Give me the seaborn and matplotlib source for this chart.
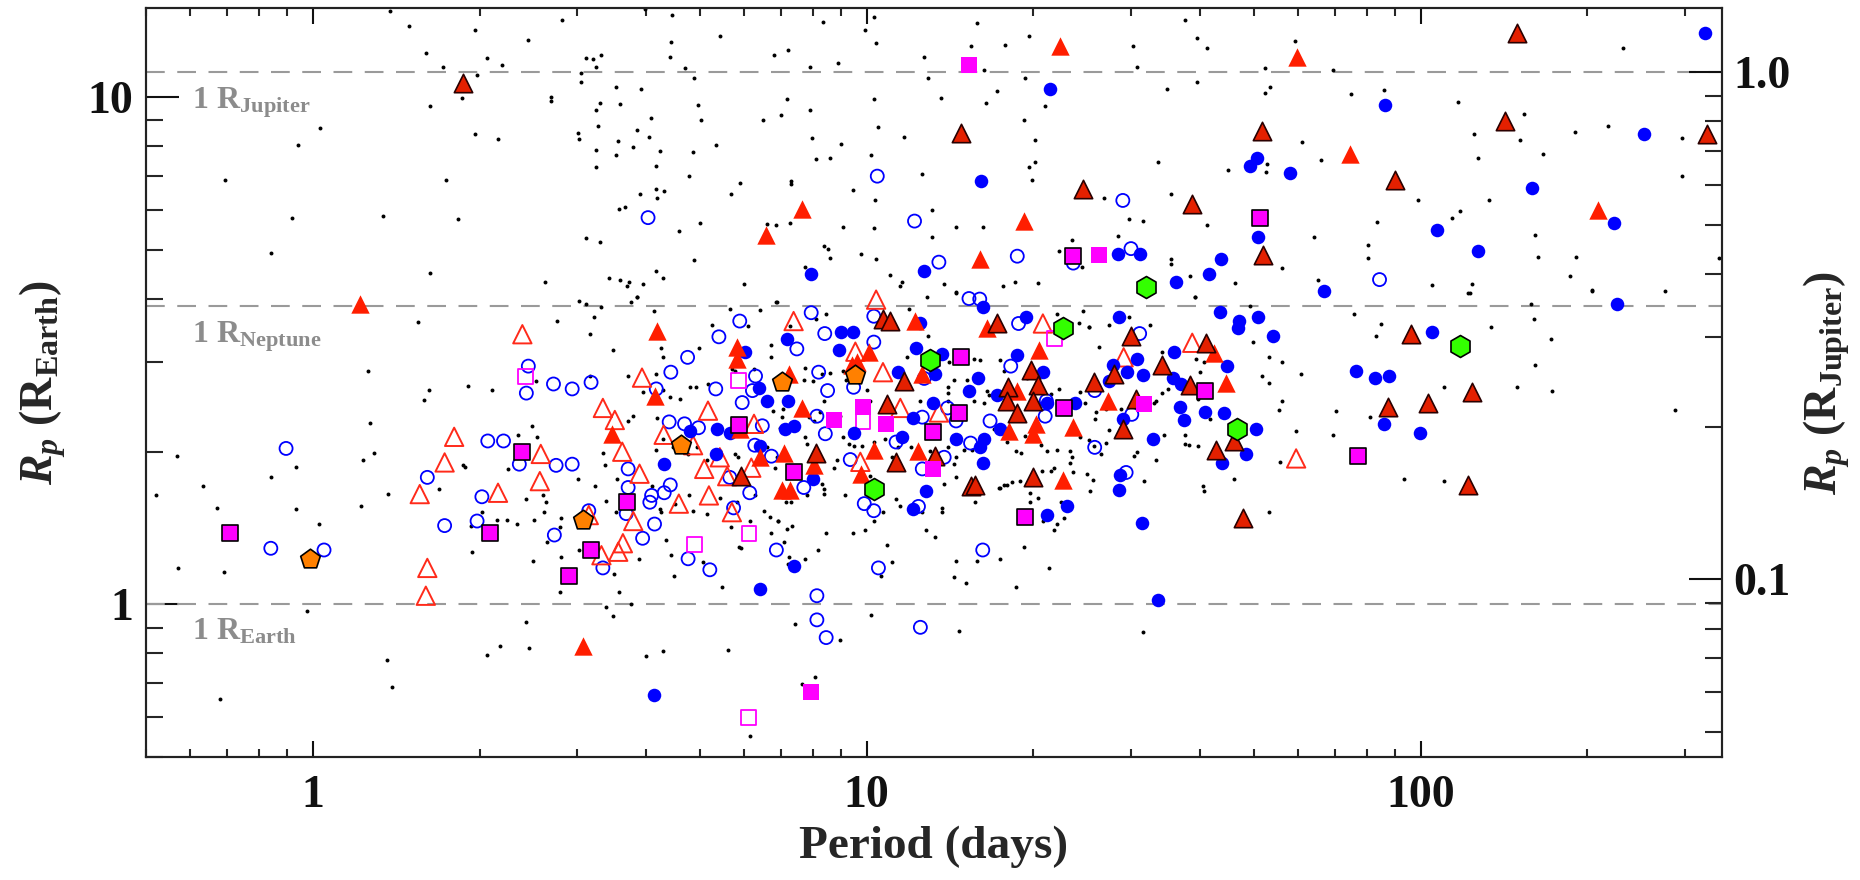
import numpy as np
import matplotlib
matplotlib.use("Agg")
import matplotlib.pyplot as plt
import seaborn as sns
from matplotlib.ticker import FixedLocator, FixedFormatter, LogLocator, NullFormatter

# ---------------- data: (period [days], radius [R_Earth]) ----------------
blue_filled = [
    (7.95,4.48),(12.67,4.54),(21.4,10.4),(86.2,9.65),(326,13.4),(253,8.46),(50.6,7.58),(49.2,7.32),
    (58.0,7.09),(16.1,6.84),(159,6.61),(223,5.65),(107,5.47),(50.9,5.30),(127,4.98),(28.4,4.91),
    (31.1,4.91),(43.6,4.80),(41.5,4.48),(36.2,4.32),(66.8,4.14),
    (6.02,3.15),(6.39,2.67),(6.62,2.52),(4.79,2.20),(5.36,2.22),(5.67,2.18),(6.41,2.05),(5.34,1.98),
    (4.30,1.89),(6.41,1.07),(4.13,0.663),
    (16.2,3.85),(12.5,3.59),(19.4,3.69),(7.18,3.33),(9.00,3.45),(9.45,3.45),(8.92,3.17),(12.3,3.21),
    (13.7,3.12),(11.4,2.87),(13.3,2.85),(15.9,2.80),(15.3,2.64),(18.7,3.10),(20.8,2.87),(17.2,2.59),
    (21.2,2.49),(23.8,2.49),(17.4,2.22),(16.3,2.12),(16.0,2.04),(16.2,1.90),(14.5,2.12),(13.2,2.50),
    (12.1,2.33),(11.6,2.14),(9.50,2.18),(7.21,2.52),(7.13,2.22),(7.40,2.25),(8.00,1.77),(7.40,1.19),
    (12.8,1.67),(12.1,1.54),(21.2,1.50),(23.0,1.56),
    (28.5,3.69),(43.5,3.78),(47.1,3.62),(46.8,3.50),(50.8,3.68),(54.2,3.39),(30.8,3.05),(35.9,3.14),
    (27.8,2.96),(44.7,2.95),(29.5,2.87),(31.6,2.83),(27.4,2.76),(35.7,2.79),(36.9,2.72),(76.4,2.89),
    (82.8,2.80),(87.8,2.82),(36.8,2.45),(37.4,2.31),(40.8,2.39),(44.1,2.38),(29.0,2.32),(50.5,2.22),
    (48.4,1.98),(43.8,1.90),(32.9,2.12),(28.7,1.80),(28.5,1.68),(31.4,1.45),(86.0,2.27),(33.5,1.02),
    (226,3.92),(105,3.45),(99.7,2.18),
]
blue_open = [
    (4.03,5.79),(10.45,6.99),(12.2,5.70),(29.0,6.26),(13.5,4.73),(18.7,4.86),(23.6,4.71),(30.0,5.03),
    (84.3,4.37),
    (0.895,2.03),(0.840,1.29),(1.048,1.28),(1.61,1.78),(1.73,1.43),
    (5.90,3.62),(5.41,3.37),(4.75,3.07),(2.45,2.95),(2.43,2.61),(2.72,2.72),(2.94,2.66),(3.18,2.74),
    (4.43,2.87),(4.17,2.66),(5.34,2.66),(6.30,2.82),(6.22,2.64),(5.96,2.50),(4.40,2.29),(4.69,2.27),
    (4.97,2.23),(6.48,2.25),(6.28,2.06),(6.73,1.96),(5.66,1.78),(6.15,1.66),(5.75,1.55),(4.42,1.72),
    (4.31,1.66),(4.09,1.64),(4.06,1.59),(3.71,1.85),(3.71,1.70),(3.68,1.51),(4.14,1.44),(3.94,1.35),
    (4.76,1.23),(5.21,1.17),(6.87,1.28),(3.15,1.53),(2.73,1.37),(3.34,1.18),(1.98,1.46),(2.02,1.63),
    (2.75,1.88),(2.94,1.89),(2.36,1.89),(2.07,2.10),(2.21,2.10),
    (15.3,4.01),(16.0,4.00),(7.94,3.76),(10.3,3.70),(18.8,3.58),(7.48,3.19),(8.40,3.42),(10.3,3.29),
    (9.47,2.68),(8.19,2.87),(8.50,2.64),(12.7,2.79),(18.2,2.95),(21.1,2.52),(21.0,2.35),(16.7,2.30),
    (15.4,2.08),(14.0,2.44),(14.5,2.30),(12.6,2.34),(11.3,2.09),(13.8,1.95),(12.6,1.85),(9.34,1.93),
    (9.90,1.58),(10.3,1.53),(8.13,2.35),(8.42,2.17),(7.70,1.70),(10.5,1.18),(16.2,1.28),(12.4,1.56),
    (8.13,1.04),(8.13,0.932),(8.45,0.860),(12.5,0.901),
    (31.1,3.42),(25.8,2.64),(30.1,2.37),(25.8,2.04),(29.4,1.82),
]
red_filled = [
    (7.63,6.01),(6.59,5.36),(22.3,12.6),(59.9,12.0),(74.5,7.72),(19.2,5.70),(209,5.99),(16.0,4.80),
    (1.216,3.92),
    (4.18,3.46),(5.84,3.22),(5.84,3.05),(4.14,2.58),(3.47,2.17),(5.90,2.22),(6.41,1.95),(3.08,0.829),
    (12.2,3.62),(16.5,3.50),(10.1,3.15),(9.61,3.01),(9.41,2.96),(7.23,2.85),(12.6,2.85),(20.5,3.17),
    (18.7,2.64),(20.2,2.27),(18.1,2.20),(20.0,2.17),(23.6,2.24),(12.4,2.01),(10.3,2.02),(9.77,1.81),
    (7.64,2.44),(7.10,1.99),(8.04,1.88),(7.03,1.68),(7.28,1.68),(22.6,1.76),
    (42.4,3.13),(44.5,2.73),(27.3,2.52),
]
red_edged = [
    (1.87,10.66),(149,13.4),(14.8,8.52),(51.7,8.58),(142,8.98),(329,8.46),(24.6,6.58),(89.9,6.87),
    (38.7,6.17),(51.9,4.89),
    (5.92,1.79),
    (10.7,3.66),(11.0,3.62),(17.2,3.59),(11.7,2.76),(19.8,2.90),(20.4,2.71),(18.0,2.68),(17.9,2.52),
    (20.0,2.52),(18.7,2.38),(13.3,1.96),(11.3,1.91),(10.9,2.48),(8.11,1.99),(15.4,1.71),(15.7,1.72),
    (20.0,1.78),
    (30.0,3.39),(41.0,3.28),(34.1,2.96),(28.0,2.85),(25.7,2.74),(38.4,2.71),(30.6,2.54),(29.0,2.22),
    (42.7,2.02),(46.1,2.10),(47.7,1.48),(87.2,2.45),
    (96.0,3.42),(124,2.62),(103,2.50),(122,1.72),
]
red_open = [
    (1.80,2.14),(1.73,1.905),(1.56,1.65),(1.61,1.18),(1.60,1.04),
    (2.39,3.41),(3.93,2.80),(3.34,2.44),(3.51,2.31),(5.17,2.41),(6.26,2.27),(4.30,2.16),(4.86,2.06),
    (5.43,1.95),(5.09,1.85),(5.60,1.79),(6.19,1.86),(5.71,1.52),(5.19,1.64),(4.58,1.58),(3.89,1.81),
    (3.62,2.00),(3.79,1.46),(3.15,1.50),(3.32,1.25),(3.56,1.27),(3.63,1.32),(2.16,1.66),(2.57,1.75),
    (2.58,1.98),
    (10.4,3.99),(7.38,3.62),(20.8,3.58),(9.54,3.15),(10.7,2.87),(13.5,2.39),(9.74,1.91),(11.5,2.44),
    (38.7,3.28),(29.1,3.07),(59.6,1.94),
]
magenta_edged = [
    (51.3,5.78),(23.6,4.86),(0.710,1.385),(5.88,2.26),(3.70,1.59),(3.18,1.28),(2.90,1.14),(2.09,1.385),
    (2.39,2.00),(14.8,3.08),(22.7,2.44),(14.7,2.38),(13.2,2.19),(7.40,1.82),(19.3,1.49),(40.8,2.64),
    (77.0,1.96),
]
magenta_filled = [
    (15.3,11.6),(26.3,4.89),(9.85,2.45),(10.85,2.27),(8.74,2.31),(13.2,1.85),(7.94,0.673),(31.7,2.48),
]
magenta_open = [
    (2.42,2.81),(5.88,2.76),(4.88,1.31),(6.13,1.38),(6.11,0.598),(21.8,3.34),(9.85,2.29),
]
orange_pentagons = [(0.989,1.23),(3.08,1.466),(4.63,2.06),(7.03,2.74),(9.51,2.83)]
green_hexagons = [(31.9,4.22),(22.6,3.50),(13.0,3.03),(10.3,1.69),(46.6,2.22),(118,3.23)]

candidates = [
    # upper part
    (1.38,14.8),(1.49,13.8),(1.96,13.6),(2.45,13.0),(2.82,14.2),(1.60,12.2),(1.72,11.5),(2.06,11.97),
    (2.20,11.6),(1.98,11.07),(3.12,11.97),(3.21,11.9),(3.31,12.1),(3.05,11.15),(3.24,11.5),(3.05,10.7),
    (3.98,14.9),(4.45,14.5),(4.43,12.85),(5.43,13.2),(4.41,12.0),(4.70,11.4),(4.88,10.9),(6.79,12.1),
    (7.21,12.4),(7.91,11.5),(8.89,11.7),(9.95,13.6),(10.3,14.4),(10.4,12.8),(12.7,12.0),(12.9,10.9),
    (8.35,14.1),(1.86,9.97),(1.63,9.6),(1.03,8.71),(0.94,8.04),(0.694,6.87),(1.74,6.87),(1.96,8.45),
    (2.16,8.26),(2.69,10.0),(2.69,9.85),(3.52,10.5),(3.91,10.4),(3.30,9.75),(3.58,9.7),(3.24,9.45),
    (4.08,9.12),(3.27,8.76),(3.85,8.61),(4.04,8.35),(3.01,8.52),(3.03,8.26),(3.55,8.19),(3.79,7.98),
    (3.25,7.86),(4.23,7.84),(3.52,7.69),(3.25,7.29),(4.16,7.32),(4.96,9.67),(5.02,9.03),(4.85,7.81),
    (5.34,8.05),(4.77,6.98),(5.90,6.79),(5.70,6.45),(7.18,9.92),(7.01,9.22),(6.50,9.01),(7.89,9.42),
    (7.98,8.31),(8.11,7.55),(8.60,7.58),(8.98,8.10),(7.30,6.84),(7.30,6.75),(9.43,6.57),(10.3,9.92),
    (10.5,8.74),(11.7,8.35),(10.2,7.71),(12.6,7.06),(10.35,6.27),(0.918,5.77),(1.34,5.83),(1.83,5.76),
    (0.841,4.94),(1.63,4.50),(2.63,4.32),(3.11,5.29),(3.30,5.19),(3.57,6.01),(3.66,6.07),(3.90,6.46),
    (4.17,6.60),(4.31,6.53),(4.19,6.32),(4.58,5.46),(5.01,5.64),(6.60,5.63),(6.86,5.61),(7.26,5.65),
    (9.08,5.54),(10.3,5.52),(4.88,4.78),(4.17,4.54),(4.29,4.41),(3.42,4.41),(3.58,4.37),(3.73,4.32),
    (3.70,4.25),(3.95,4.28),(6.00,4.29),(7.74,4.62),(8.37,5.08),(8.51,5.03),(8.58,4.82),(9.76,4.91),
    (10.4,4.79),(11.0,4.47),(11.6,4.33),(11.5,4.25),(13.1,6.00),(13.1,5.31),(3.85,4.04),
    (15.8,14.0),(15.4,12.6),(16.3,11.3),(17.8,12.7),(19.6,13.2),(13.6,9.97),(17.2,10.3),(16.4,9.74),
    (19.3,10.9),(21.0,9.6),(19.2,9.03),(20.1,8.23),(19.6,7.3),(20.1,7.46),(19.9,6.88),(14.5,5.55),
    (16.2,5.56),(13.8,4.28),(14.5,4.13),(17.6,4.25),(18.5,4.32),(20.4,4.30),(22.2,4.97),(23.5,5.23),
    (24.5,4.63),(26.8,6.34),(28.4,5.32),(29.8,5.76),(31.5,5.70),(30.3,12.6),(30.8,11.5),(34.8,10.4),
    (33.5,7.46),(35.5,6.46),(35.5,4.80),(35.5,4.69),(37.5,14.2),(39.5,13.1),(41.2,12.5),(39.5,10.7),
    (41.2,5.61),(38.4,4.45),(46.3,4.31),(39.1,4.03),(44.9,7.18),(52.3,11.4),(52.3,10.2),(53.4,10.5),
    (52.9,7.38),(52.5,7.13),(56.1,4.61),(59.2,12.9),(61.0,8.18),(66.1,7.52),(64.2,5.31),(65.3,4.36),
    (69.4,11.3),(74.8,10.15),(86.0,10.35),(83.4,5.67),(80.5,5.11),(80.5,4.82),(98.9,6.26),(105,4.27),
    (114,5.77),(118,5.96),(117,9.81),(125,8.46),(127,7.58),(133,6.27),(124,4.28),(123,4.12),
    (151,8.23),(154,9.29),(166,7.72),(161,5.36),(163,4.85),(190,8.55),(191,4.85),(186,4.45),
    (204,4.16),(218,8.76),(232,12.5),(276,4.14),(297,8.31),(297,6.98),(345,4.83),
    # left part
    (1.55,3.60),(1.26,2.89),(1.62,2.65),(1.59,2.53),(1.27,2.28),(1.29,1.99),(1.23,1.93),(1.37,1.65),
    (1.22,1.56),(1.69,1.69),(1.88,1.87),(0.568,1.96),(0.521,1.64),(0.634,1.71),(0.671,1.55),(0.842,1.78),
    (0.931,1.87),(0.931,1.54),(1.025,1.44),(0.570,1.18),(0.691,1.16),(0.977,0.969),(1.36,0.778),
    (1.39,0.687),(0.679,0.65),
    # 2-7 days
    (3.03,3.97),(3.11,3.91),(3.32,3.85),(3.76,3.95),(3.85,4.03),(4.13,3.79),(2.76,3.62),(3.22,3.68),
    (3.16,3.42),(3.48,3.18),(4.25,3.21),(4.28,3.07),(4.79,2.68),(4.91,2.68),(5.16,2.72),(5.26,3.55),
    (4.99,3.21),(5.66,3.82),(6.11,3.54),(6.41,3.80),(6.73,3.24),(6.73,3.08),(6.87,3.95),(1.91,2.69),
    (2.11,2.65),(2.53,2.76),(3.17,2.82),(3.71,2.82),(4.16,2.85),(4.29,2.65),(4.41,2.56),(4.60,2.54),
    (3.94,2.62),(5.72,2.91),(5.78,2.88),(6.25,2.91),(6.78,2.41),(3.78,2.35),(3.71,2.30),(2.49,2.25),
    (2.54,2.14),(2.35,2.16),(4.18,2.33),(4.29,2.12),(4.17,2.02),(4.47,2.04),(4.93,2.04),(4.76,1.98),
    (5.14,1.93),(5.44,2.01),(5.79,1.98),(5.86,1.95),(6.61,2.04),(1.87,1.88),(2.25,1.85),(3.34,1.99),
    (3.37,1.88),(3.01,1.77),(3.54,1.77),(3.23,1.71),(2.43,1.61),(2.60,1.64),(2.64,1.59),(2.51,1.47),
    (2.62,1.52),(2.81,1.48),(3.39,1.60),(3.52,1.52),(4.10,1.71),(4.23,1.54),(4.25,1.52),(4.50,1.58),
    (4.78,1.64),(4.86,1.53),(5.15,1.51),(5.43,1.62),(5.70,1.42),(5.84,1.59),(6.15,1.46),(6.28,1.64),
    (6.52,1.53),(6.68,1.49),(6.92,1.46),(6.73,1.38),(1.93,1.43),(2.02,1.52),(2.15,1.47),(2.24,1.47),
    (2.34,1.44),(2.65,1.33),(2.79,1.42),(1.94,1.27),(2.50,1.22),(2.81,1.24),(3.03,1.28),(3.50,1.15),
    (3.57,1.06),(3.88,1.23),(4.35,1.34),(4.44,1.25),(4.49,1.14),(5.06,1.21),(5.47,1.08),(5.88,1.30),
    (5.94,1.29),(2.79,1.06),(3.39,0.986),(3.49,0.947),(3.75,1.0),(2.43,0.925),(2.06,0.795),(2.18,0.826),
    (2.46,0.819),(3.99,0.791),(4.29,0.810),(5.62,0.813),(6.15,0.550),
    # 7-25 days
    (6.89,3.95),(7.26,3.54),(8.45,3.74),(8.11,3.65),(12.85,4.03),(14.5,4.12),(12.9,3.39),(11.9,3.82),
    (24.6,3.79),(25.2,3.52),(24.2,3.59),(22.1,3.74),(7.73,2.92),(7.70,2.77),(8.0,2.76),(8.31,2.85),
    (8.60,2.86),(8.36,2.52),(9.06,2.89),(9.19,2.77),(10.0,2.65),(10.15,2.52),(11.8,3.07),(14.1,3.01),
    (14.4,2.77),(14.0,2.68),(14.0,2.61),(15.2,2.77),(15.6,3.05),(16.0,3.03),(16.5,2.64),(16.6,2.59),
    (17.4,3.03),(17.7,2.89),(19.5,2.79),(21.5,2.60),(22.2,2.66),(24.3,2.62),(24.8,2.50),(12.5,2.52),
    (14.0,2.52),(15.6,2.52),(16.3,2.49),(7.03,2.34),(7.06,2.43),(6.98,2.23),(7.86,2.34),(8.02,2.30),
    (8.25,2.39),(8.96,2.35),(9.06,2.14),(9.28,2.07),(9.47,2.05),(9.81,2.05),(10.3,2.09),(10.8,2.12),
    (11.1,1.95),(11.4,2.04),(12.0,2.04),(13.0,2.01),(14.0,2.04),(14.5,1.95),(14.4,1.89),(15.0,2.02),
    (15.5,2.02),(17.0,2.22),(17.9,2.09),(18.6,2.01),(19.0,1.99),(19.3,2.15),(20.6,2.06),(21.2,2.01),
    (22.1,2.02),(23.3,2.01),(24.3,2.14),(25.2,2.11),(23.5,1.95),(23.3,1.90),(21.8,1.86),(20.7,1.83),
    (18.9,1.75),(18.3,1.74),(17.9,1.72),(17.4,1.70),(19.7,1.66),(20.4,1.62),(19.7,1.59),(21.5,1.83),
    (23.6,1.82),(25.0,1.81),(25.3,1.67),(22.4,1.59),(21.8,1.40),(22.1,1.44),(20.8,1.46),(22.7,1.48),
    (6.84,1.86),(6.89,1.95),(7.75,2.14),(7.80,2.07),(8.72,1.86),(8.84,1.93),(8.31,1.73),(8.36,1.69),
    (8.36,1.65),(7.15,1.59),(7.30,1.59),(7.80,1.64),(9.15,1.64),(10.15,1.79),(10.7,1.52),(11.3,1.61),
    (11.5,1.56),(12.6,1.52),(13.7,1.55),(13.7,1.52),(14.5,1.78),(13.8,1.73),(15.7,1.59),(17.3,1.70),
    (17.7,1.72),(6.91,1.46),(7.18,1.41),(7.33,1.43),(7.08,1.33),(7.75,1.23),(7.23,1.24),(7.20,1.20),
    (8.17,1.28),(8.46,1.38),(9.45,1.38),(9.95,1.40),(10.3,1.46),(10.9,1.31),(11.1,1.21),(10.6,1.14),
    (12.8,1.40),(13.3,1.36),(14.5,1.22),(14.4,1.13),(15.1,1.10),(15.8,1.22),(17.4,1.23),(19.2,1.30),
    (18.6,1.08),(21.3,1.18),(10.2,0.951),(7.41,0.914),(8.96,0.851),(14.7,0.887),(7.64,0.695),
    (8.08,0.719),
    # 25-100 days
    (25.2,3.52),(26.3,3.22),(27.4,3.55),(29.8,3.69),(32.5,3.56),(39.1,4.03),(49.1,3.87),(49.9,3.29),
    (53.3,3.07),(56.2,3.01),(51.7,2.82),(53.3,2.73),(60.7,2.85),(39.3,3.05),(40.6,3.01),(40.0,2.87),
    (34.1,3.15),(35.0,2.66),(34.1,2.61),(39.6,2.54),(75.9,3.74),(84.8,3.57),(83.1,3.39),(56.1,2.52),
    (55.4,2.42),(70.4,2.41),(59.6,2.20),(69.4,2.16),(81.1,2.34),(93.4,1.77),(25.9,2.39),(25.8,2.32),
    (27.0,2.43),(28.8,2.43),(33.3,2.52),(33.0,2.49),(34.4,2.16),(37.6,2.16),(37.6,2.07),(38.2,2.06),
    (39.6,2.05),(41.7,2.32),(27.4,2.21),(27.0,2.08),(25.7,2.05),(26.5,1.98),(30.8,2.00),(30.4,1.96),
    (33.3,1.93),(31.7,1.75),(25.6,1.76),(46.1,1.77),(40.4,1.71),(40.6,1.67),(55.8,1.91),(53.3,1.52),
    (31.5,0.882),
    # > 100 days
    (122,4.12),(204,4.15),(158,3.91),(160,3.65),(134,3.53),(172,3.34),(161,2.97),(110,2.68),
    (149,2.68),(173,2.64),(288,2.42),(110,1.75),
]

x_ticks = [1, 10, 100]
x_tick_labels = ["1", "10", "100"]
y_ticks = [1, 10]
y_tick_labels = ["1", "10"]
rj_ticks = [0.1, 1.0]
rj_tick_labels = ["0.1", "1.0"]
reference_lines = [(11.2, "1 R$_{\\rm Jupiter}$", 9.51),
                   (3.88, "1 R$_{\\rm Neptune}$", 3.29),
                   (1.0, "1 R$_{\\rm Earth}$", 0.852)]
earth_per_jupiter = 11.2

# ---------------- style ----------------
sns.set_style("ticks")
plt.rcParams["font.family"] = ["Liberation Serif", "DejaVu Serif"]
plt.rcParams["font.weight"] = "bold"
plt.rcParams["mathtext.fontset"] = "custom"
plt.rcParams["mathtext.rm"] = "Liberation Serif:bold"
plt.rcParams["mathtext.it"] = "Liberation Serif:italic:bold"
plt.rcParams["mathtext.bf"] = "Liberation Serif:bold"

fig = plt.figure(figsize=(18.6, 8.8), dpi=100)
ax = fig.add_axes([146/1860, 123/880, 1576/1860, 749/880])
ax.set_xscale("log")
ax.set_yscale("log")
ax.set_xlim(0.5, 350)
ax.set_ylim(0.5, 15)

for yv, lab, ty in reference_lines:
    ax.axhline(yv, color="#9a9a9a", lw=1.5, dashes=(9, 6), zorder=1)
    ax.text(0.605, ty, lab, color="#8c8c8c", fontsize=23, fontweight="bold",
            va="baseline", ha="left", zorder=1)


def plot_series(pairs, **kw):
    p, r = zip(*pairs)
    sns.scatterplot(x=list(p), y=list(r), ax=ax, legend=False, **kw)


plot_series(candidates, marker="o", s=8, color="black", linewidth=0, zorder=2)
plot_series(blue_open, marker="o", s=88, color="#0000ff", facecolor="none",
            edgecolor="#0000ff", linewidth=1.3, zorder=3)
plot_series(red_open, marker="^", s=175, color="#ff2a1a", facecolor="none",
            edgecolor="#ff2a1a", linewidth=1.4, zorder=3)
plot_series(magenta_open, marker="s", s=115, color="#ff00ff", facecolor="none",
            edgecolor="#ff00ff", linewidth=1.3, zorder=3)
plot_series(blue_filled, marker="o", s=95, color="#0000ff", edgecolor="#0000ff",
            linewidth=0, zorder=4)
plot_series(red_filled, marker="^", s=175, color="#ff1e00", edgecolor="#ff1e00",
            linewidth=0, zorder=4)
plot_series(red_edged, marker="^", s=175, color="#e42000", edgecolor="#2a0000",
            linewidth=1.2, zorder=5)
plot_series(magenta_filled, marker="s", s=120, color="#ff00ff", edgecolor="#ff00ff",
            linewidth=0, zorder=5)
plot_series(magenta_edged, marker="s", s=120, color="#ff00ff", edgecolor="black",
            linewidth=1.2, zorder=5)
plot_series(orange_pentagons, marker="p", s=220, color="#ff8000", edgecolor="black",
            linewidth=1.2, zorder=6)
plot_series(green_hexagons, marker="h", s=250, color="#33ff00", edgecolor="black",
            linewidth=1.2, zorder=6)

# ---------------- axes ----------------
ax.xaxis.set_major_locator(FixedLocator(x_ticks))
ax.xaxis.set_major_formatter(FixedFormatter(x_tick_labels))
ax.xaxis.set_minor_locator(LogLocator(base=10, subs=np.arange(2, 10)))
ax.xaxis.set_minor_formatter(NullFormatter())
ax.yaxis.set_major_locator(FixedLocator(y_ticks))
ax.yaxis.set_major_formatter(FixedFormatter(y_tick_labels))
ax.yaxis.set_minor_locator(LogLocator(base=10, subs=np.arange(2, 10)))
ax.yaxis.set_minor_formatter(NullFormatter())

ax.tick_params(axis="x", which="major", direction="in", length=11.5, width=1.5,
               top=True, bottom=True, labelsize=33, pad=13, colors="#111111")
ax.tick_params(axis="x", which="minor", direction="in", length=6, width=1.5,
               top=True, bottom=True)
ax.tick_params(axis="y", which="major", direction="in", length=24, width=1.5,
               left=True, right=False, labelsize=33, pad=9, colors="#111111")
ax.tick_params(axis="y", which="minor", direction="in", length=12.5, width=1.5,
               left=True, right=False)
for sp in ax.spines.values():
    sp.set_linewidth(1.5)
    sp.set_color("#222222")
    sp.set_visible(True)

ax.set_xlabel("Period (days)", fontsize=34, fontweight="bold", labelpad=6)
ax.set_ylabel(r"$R_p$ (R$_{\rm Earth}$)", fontsize=33, fontweight="bold", labelpad=14)

ax2 = ax.twinx()
ax2.set_yscale("log")
ax2.set_ylim(0.5 / earth_per_jupiter, 15 / earth_per_jupiter)
ax2.yaxis.set_major_locator(FixedLocator(rj_ticks))
ax2.yaxis.set_major_formatter(FixedFormatter(rj_tick_labels))
ax2.yaxis.set_minor_locator(LogLocator(base=10, subs=np.arange(2, 10)))
ax2.yaxis.set_minor_formatter(NullFormatter())
ax2.tick_params(axis="y", which="major", direction="in", length=24, width=1.5,
                labelsize=33, pad=8, colors="#111111")
ax2.tick_params(axis="y", which="minor", direction="in", length=12.5, width=1.5)
for sp in ax2.spines.values():
    sp.set_linewidth(1.5)
    sp.set_color("#222222")
ax2.set_ylabel(r"$R_p$ (R$_{\rm Jupiter}$)", fontsize=33, fontweight="bold", labelpad=8)

fig.savefig("out.png", dpi=100)
